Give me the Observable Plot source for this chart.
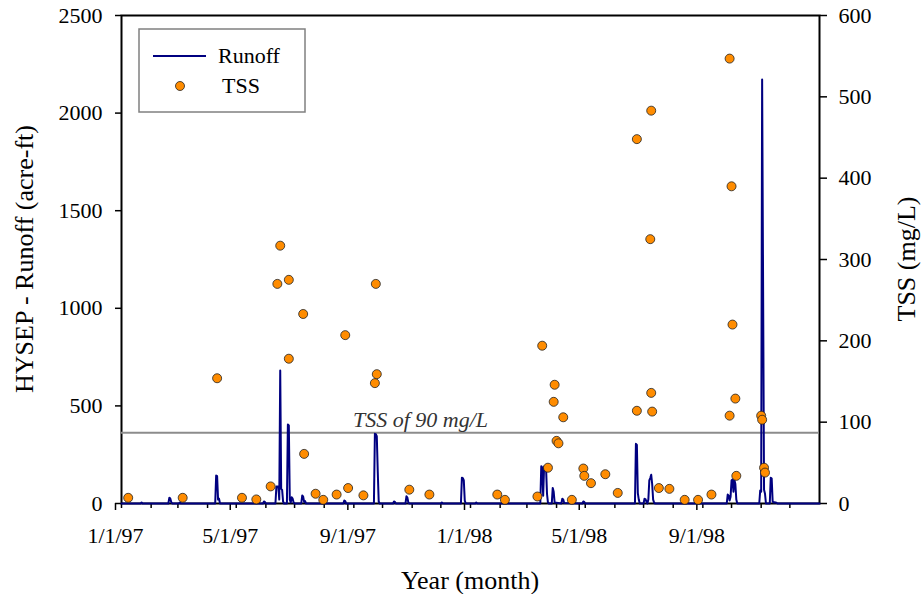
<!DOCTYPE html>
<html><head><meta charset="utf-8">
<script src="https://cdn.jsdelivr.net/npm/d3@7"></script>
<script src="https://cdn.jsdelivr.net/npm/@observablehq/plot@0.6"></script>
<style>
body{margin:0;background:#fff;}
#chart{width:921px;height:594px;}
</style></head><body><div id="chart"></div>
<script>
// ---- data ----
const runoffDates = [
"1997-01-01","1997-01-21","1997-01-22","1997-01-23","1997-02-19","1997-02-20","1997-02-21","1997-02-22","1997-02-23",
"1997-03-02","1997-03-03","1997-03-04","1997-04-09","1997-04-10","1997-04-11","1997-04-12","1997-04-13","1997-04-14",
"1997-05-29","1997-05-30","1997-05-31","1997-06-01","1997-06-11","1997-06-12","1997-06-13","1997-06-14","1997-06-15",
"1997-06-16","1997-06-17","1997-06-18","1997-06-19","1997-06-20","1997-06-23","1997-06-24","1997-06-25","1997-06-26",
"1997-06-27","1997-06-28","1997-06-29","1997-06-30","1997-07-01","1997-07-08","1997-07-09","1997-07-10","1997-07-11",
"1997-07-12","1997-07-13","1997-08-21","1997-08-22","1997-08-23","1997-08-24","1997-09-22","1997-09-23","1997-09-24",
"1997-09-25","1997-09-26","1997-09-27","1997-09-28","1997-10-12","1997-10-13","1997-10-14","1997-10-15","1997-10-25",
"1997-10-26","1997-10-27","1997-10-28","1997-10-29","1997-12-01","1997-12-02","1997-12-03","1997-12-22","1997-12-23",
"1997-12-24","1997-12-25","1997-12-26","1997-12-27","1998-01-06","1998-01-07","1998-01-08","1998-03-15","1998-03-16",
"1998-03-17","1998-03-18","1998-03-19","1998-03-20","1998-03-21","1998-03-22","1998-03-23","1998-03-24","1998-03-27",
"1998-03-28","1998-03-29","1998-03-30","1998-04-06","1998-04-07","1998-04-08","1998-04-09","1998-04-28","1998-04-29",
"1998-04-30","1998-05-01","1998-06-22","1998-06-23","1998-06-24","1998-06-25","1998-06-26","1998-06-27","1998-07-01",
"1998-07-02","1998-07-03","1998-07-04","1998-07-05","1998-07-06","1998-07-07","1998-07-08","1998-07-09","1998-07-10",
"1998-07-11","1998-07-12","1998-07-13","1998-09-26","1998-09-27","1998-09-28","1998-09-29","1998-09-30","1998-10-01",
"1998-10-02","1998-10-03","1998-10-04","1998-10-05","1998-10-06","1998-10-07","1998-10-30","1998-10-31","1998-11-01",
"1998-11-02","1998-11-03","1998-11-04","1998-11-05","1998-11-06","1998-11-10","1998-11-11","1998-11-12","1998-11-13",
"1998-11-14","1998-11-15","1998-11-16","1998-11-17","1998-11-18","1999-01-01"];
const runoffValues = [
0,0,5,0,0,29,26,8,0,
0,5,0,0,143,140,20,25,0,
0,10,8,0,0,87,85,88,20,
681,75,70,10,0,0,405,400,20,
5,32,25,5,0,0,41,35,8,
12,0,0,15,12,0,0,357,355,
345,164,10,0,0,10,8,0,0,
37,30,5,0,0,5,0,0,132,
130,118,15,0,0,5,0,0,191,
185,40,190,186,185,50,5,0,0,
80,60,5,0,24,20,3,0,10,
8,0,0,306,300,53,20,0,0,
24,22,10,0,20,118,130,147,100,
20,5,0,0,46,40,15,35,118,
123,60,120,100,20,0,0,67,60,
2172,1125,70,50,0,0,132,128,10,
5,6,5,4,0,0];

const tssDates = [
"1997-01-08","1997-03-06","1997-04-11","1997-05-07","1997-05-22","1997-06-06","1997-06-13","1997-06-16","1997-06-25",
"1997-06-25","1997-07-10","1997-07-11","1997-07-23","1997-07-31","1997-08-14","1997-08-23","1997-08-26","1997-09-11",
"1997-09-23","1997-09-24","1997-09-25","1997-10-29","1997-11-19","1998-01-29","1998-02-06","1998-03-12","1998-03-17",
"1998-03-23","1998-03-29","1998-03-30","1998-04-01","1998-04-03","1998-04-08","1998-04-17","1998-04-29","1998-04-30",
"1998-05-07","1998-05-22","1998-06-04","1998-06-24","1998-06-24","1998-07-08","1998-07-09","1998-07-09","1998-07-10",
"1998-07-17","1998-07-28","1998-08-13","1998-08-27","1998-09-10","1998-09-29","1998-09-29","1998-10-01","1998-10-02",
"1998-10-05","1998-10-06","1998-11-01","1998-11-02","1998-11-04","1998-11-05"];
const tssValues = [
7,7,154,7,5,21,270,317,275,
178,233,61,12,4.5,11,207,19,10,
148,270,159,17,11,11,4.5,8.6,194,
44,125,146,77,74,106,4.5,43,34,
25,36,13,448,114,325,136,483,113,
19,18,4.5,4.5,11,547,108,390,220,
129,34,108,103,44,38];

const leftTicks = [0, 500, 1000, 1500, 2000, 2500];
const rightTicks = [0, 100, 200, 300, 400, 500, 600];
const xTickDates = ["1997-01-01","1997-05-01","1997-09-01","1998-01-01","1998-05-01","1998-09-01"];
const xTickLabels = ["1/1/97","5/1/97","9/1/97","1/1/98","5/1/98","9/1/98"];
const tssThreshold = 87;           // where the reference line is drawn (right axis units)
const thresholdLabel = "TSS of 90 mg/L";
const thresholdLabelDate = "1997-08-31";
const xStart = "1997-01-01", xEnd = "1999-01-01";

// ---- build ----
const k = 2500 / 600; // right-axis (mg/L) to left-axis (acre-ft) units
const runoff = runoffDates.map((d, i) => ({date: new Date(d), value: runoffValues[i]}));
const tss = tssDates.map((d, i) => ({date: new Date(d), value: tssValues[i] * k}));
const xDomain = [new Date(xStart), new Date(xEnd)];
const monthTicks = d3.utcMonth.range(xDomain[0], xDomain[1]);
const labelMap = new Map(xTickDates.map((d, i) => [+new Date(d), xTickLabels[i]]));
const font = "'Liberation Serif', 'Times New Roman', serif";

const plot = Plot.plot({
  width: 921, height: 594,
  marginLeft: 121, marginRight: 102, marginTop: 15, marginBottom: 91,
  style: {fontFamily: font, fontSize: "22px", background: "white", color: "black", overflow: "visible"},
  x: {type: "utc", domain: xDomain},
  y: {domain: [0, 2500]},
  marks: [
    Plot.axisY(leftTicks, {anchor: "left", tickSize: 6, tickPadding: 13, strokeWidth: 1.5, label: null, tickFormat: d => String(d)}),
    Plot.axisY(rightTicks.map(t => t * k), {anchor: "right", tickSize: 7, tickPadding: 12, strokeWidth: 1.5, label: null,
      tickFormat: d => String(Math.round(d / k))}),
    Plot.axisX(monthTicks, {tickSize: 5, strokeWidth: 1.5, tickFormat: () => "", label: null}),
    Plot.axisX(xTickDates.map(d => new Date(d)), {tickSize: 7, tickPadding: 17, strokeWidth: 1.5, dx: -6, label: null,
      tickFormat: d => labelMap.get(+d)}),
    Plot.frame({stroke: "black", strokeWidth: 2}),
    Plot.ruleY([tssThreshold * k], {stroke: "#8c8c8c", strokeWidth: 2}),
    Plot.text([thresholdLabel], {x: () => new Date(thresholdLabelDate), y: () => tssThreshold * k, text: d => d,
      textAnchor: "start", lineAnchor: "bottom", dy: -6, fontStyle: "italic", fontSize: 22, fill: "#333"}),
    Plot.line(runoff, {x: "date", y: "value", stroke: "#000080", strokeWidth: 2}),
    Plot.dot(tss, {x: "date", y: "value", r: 4.5, fill: "#ff8c00", stroke: "#222", strokeWidth: 0.8})
  ]
});

const svg = d3.select(plot);
// axis titles
svg.append("text").attr("transform", "translate(24,259) rotate(-90)")
  .attr("text-anchor", "middle").attr("dominant-baseline", "central")
  .style("font-family", font).style("font-size", "26px").text("HYSEP - Runoff (acre-ft)");
svg.append("text").attr("transform", "translate(906,259) rotate(-90)")
  .attr("text-anchor", "middle").attr("dominant-baseline", "central")
  .style("font-family", font).style("font-size", "26px").text("TSS (mg/L)");
svg.append("text").attr("x", 470).attr("y", 589).attr("text-anchor", "middle")
  .style("font-family", font).style("font-size", "26px").text("Year (month)");
// legend
const lg = svg.append("g");
lg.append("rect").attr("x", 139).attr("y", 29).attr("width", 166).attr("height", 83)
  .attr("fill", "white").attr("stroke", "#808080").attr("stroke-width", 1.5);
lg.append("line").attr("x1", 153).attr("x2", 206).attr("y1", 56).attr("y2", 56)
  .attr("stroke", "#000080").attr("stroke-width", 2);
lg.append("text").attr("x", 218).attr("y", 63).attr("text-anchor", "start")
  .style("font-family", font).style("font-size", "22px").text("Runoff");
lg.append("circle").attr("cx", 180).attr("cy", 86).attr("r", 4.5).attr("fill", "#ff8c00").attr("stroke", "#222").attr("stroke-width", 0.8);
lg.append("text").attr("x", 222).attr("y", 93).attr("text-anchor", "start")
  .style("font-family", font).style("font-size", "22px").text("TSS");

document.getElementById("chart").appendChild(plot);
</script>
</body></html>
